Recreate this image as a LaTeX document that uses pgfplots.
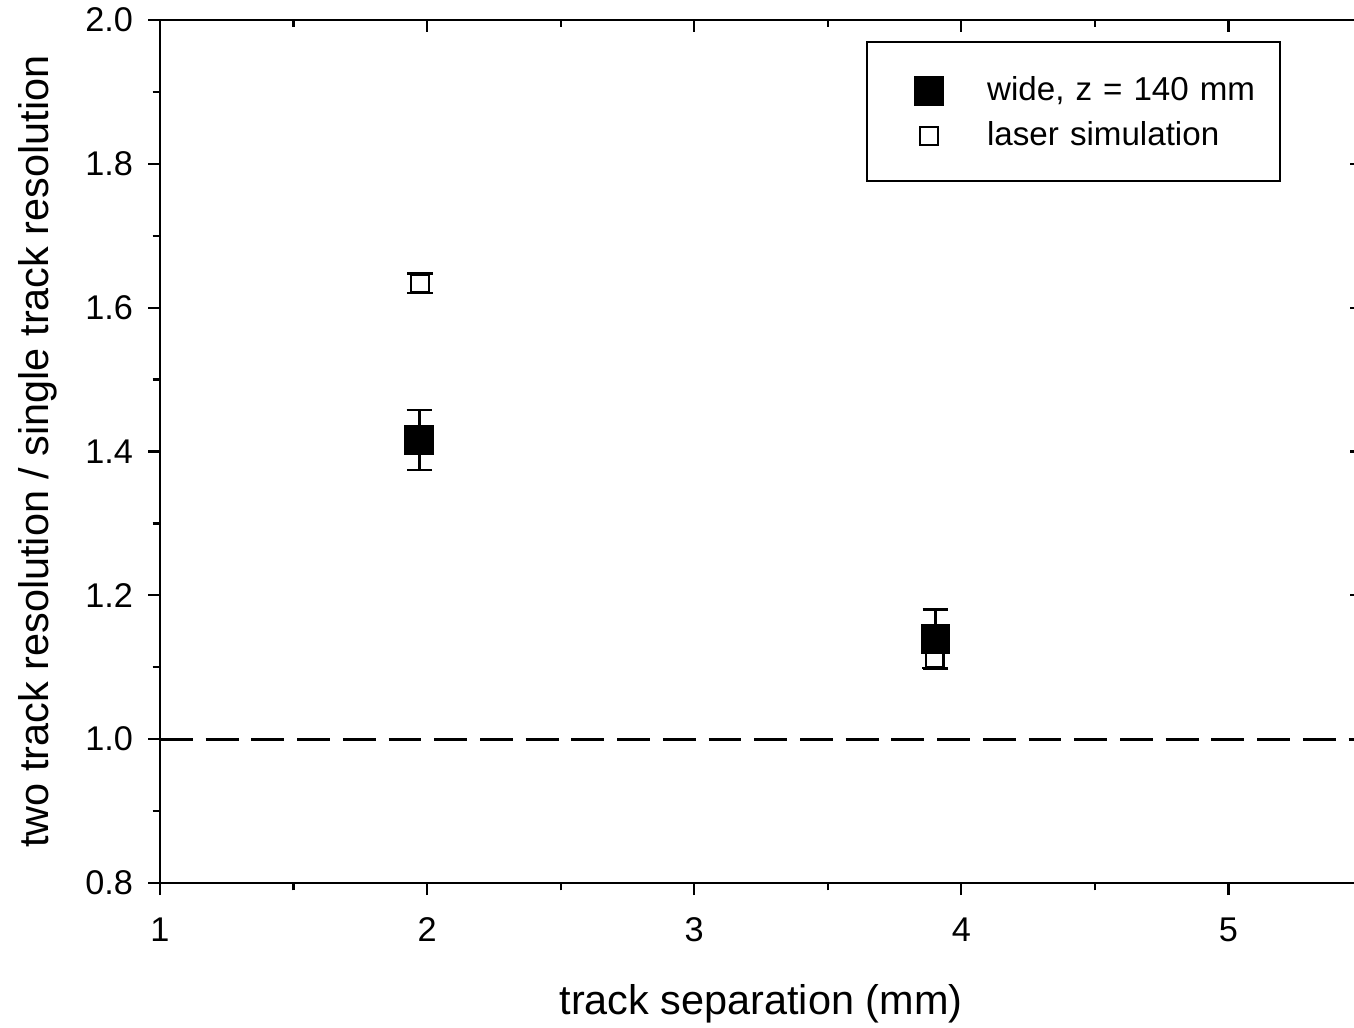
\documentclass[border=0pt]{standalone}
\usepackage{pgfplots}
\pgfplotsset{compat=1.18}
\usepackage{fontspec}
\setmainfont{Liberation Sans}

\pgfplotsset{
  common/.style={
    scale only axis, width=420.7pt, height=302.05pt,
    xmin=1, xmax=5.5, ymin=0.8, ymax=2.0,
    xtick={1,2,3,4,5}, ytick={0.8,1.0,1.2,1.4,1.6,1.8,2.0},
    minor x tick num=1, minor y tick num=1,
    major tick length=4.2pt, minor tick length=2.6pt,
    every tick/.style={black, line width=0.8pt},
    axis line style={black, line width=0.8pt},
  }
}

\begin{document}
\begin{tikzpicture}
\begin{axis}[common,
  axis x line*=top, axis y line*=right,
  tick align=inside,
  xticklabels={}, yticklabels={},
]
\end{axis}
\begin{axis}[common,
  axis x line*=bottom, axis y line*=left,
  tick align=outside,
  /pgf/number format/assume math mode=true,
  xticklabels={1,2,3,4,5},
  yticklabels={0.8,1.0,1.2,1.4,1.6,1.8,2.0},
  xticklabel style={font=\fontsize{12}{14}\selectfont, yshift=-4.5pt},
  yticklabel style={font=\fontsize{12}{14}\selectfont, xshift=-1.7pt},
  xlabel={track separation (mm)},
  ylabel={two track resolution / single track resolution},
  label style={font=\fontsize{14.5}{17}\selectfont},
  x label style={at={(axis description cs:0.5,-0.14)}, anchor=center},
  y label style={at={(axis description cs:-0.1015,0.5)}, anchor=center},
  reverse legend,
  legend cell align=left,
  legend image code/.code={
    \path[draw=none, fill=none] (0pt,-7.2pt) rectangle (42pt,8.55pt);
    \draw[#1] plot coordinates {(21.7pt,0pt)};
  },
  legend style={at={(rel axis cs:0.9326,0.9757)}, anchor=north east,
    draw=black, line width=0.7pt, font=\fontsize{11.6}{14}\selectfont,
    inner xsep=0pt, inner ysep=8.6pt, row sep=0pt, column sep=0pt,
    nodes={inner sep=0pt, text width=102.5pt}},
]
\addplot[forget plot, black, line width=1pt, dash pattern=on 11.5pt off 4.5pt]
  coordinates {(1,1) (5.5,1)};

\addplot[black, only marks, mark=square*, mark size=3.1pt,
  mark options={fill=white, draw=black, line width=0.85pt, solid},
  error bars/.cd, y dir=both, y explicit,
  error bar style={line width=0.9pt, black, solid},
  error mark options={black, line width=0.9pt, mark size=4.5pt, rotate=90}]
  coordinates {(1.973,1.634) +- (0,0.0135) (3.900,1.112) +- (0,0.013)};
\addlegendentry{laser simulation}

\addplot[black, only marks, mark=square*, mark size=4.8pt,
  mark options={fill=black, draw=black, line width=0.85pt, solid},
  error bars/.cd, y dir=both, y explicit,
  error bar style={line width=0.9pt, black, solid},
  error mark options={black, line width=0.9pt, mark size=4.5pt, rotate=90}]
  coordinates {(1.971,1.416) +- (0,0.042) (3.903,1.139) +- (0,0.041)};
\addlegendentry{wide, z = 140 mm}

\coordinate (bbsw) at (axis cs:0.401,0.5998);
\coordinate (bbne) at (axis cs:5.470,2.0278);
\end{axis}
\pgfresetboundingbox
\useasboundingbox (bbsw) rectangle (bbne);
\end{tikzpicture}
\end{document}
